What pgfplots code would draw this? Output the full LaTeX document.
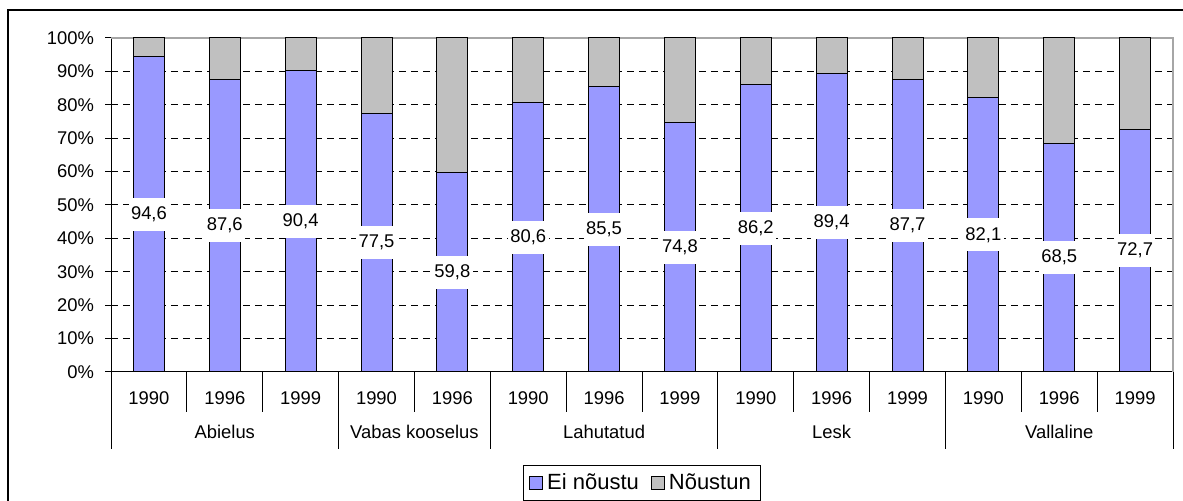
\documentclass[border=0pt]{standalone}
\usepackage{fontspec}
\setmainfont{Liberation Sans}
\usepackage{pgfplots}
\pgfplotsset{compat=1.18}
\definecolor{eiblue}{HTML}{9999FF}
\definecolor{ngrey}{HTML}{C0C0C0}

\begin{document}
\begin{tikzpicture}[font=\fontsize{9.2}{11}\selectfont]
\useasboundingbox (0,0) rectangle (591.5pt,250.5pt);
\draw[line width=0.75pt] (4pt,0) -- (4pt,245.5pt) -- (592pt,245.5pt);
\begin{axis}[
    at={(55.5pt,64.5pt)}, anchor=south west,
    scale only axis, width=531pt, height=167pt,
    ybar stacked, bar width=15.5pt,
    xmin=-0.5, xmax=13.5, ymin=0, ymax=100,
    axis lines*=left,
    axis line style={line width=0.5pt},
    clip=false,
    /pgf/number format/assume math mode=true,
    ytick={0,10,...,100},
    yticklabel={\pgfmathprintnumber{\tick}\%},
    yticklabel style={xshift=-2pt},
    tick align=outside, major tick length=3pt,
    ytick style={line width=0.5pt, black},
    ymajorgrids,
    grid style={black, line width=0.5pt, dash pattern=on 3.5pt off 2.5pt},
    xtick=data,
    xticklabels={1990,1996,1999,1990,1996,1990,1996,1999,1990,1996,1999,1990,1996,1999},
    xtick style={draw=none},
    xticklabel style={anchor=center, yshift=-10pt},
    legend columns=2,
    legend style={at={(0.5,-0.332)}, anchor=center, draw=black, line width=0.5pt,
        font=\fontsize{11}{13}\selectfont, inner xsep=3pt, inner ysep=2pt,
        /tikz/every even column/.append style={column sep=4pt}},
]
% Ei noustu: label sits in the middle of the blue segment
\addplot[fill=eiblue, draw=black, line width=0.5pt,
    legend image code/.code={\draw[fill=eiblue, draw=black, line width=0.5pt] (0pt,-3.25pt) rectangle (6.5pt,3.25pt);},
    nodes near coords={\pgfmathprintnumber[fixed,fixed zerofill,precision=1,use comma]{\pgfplotspointmeta}},
    every node near coord/.append style={anchor=center, fill=white, inner xsep=1.2pt,
        minimum height=16.5pt, text=black}]
    coordinates {(0,94.6) (1,87.6) (2,90.4) (3,77.5) (4,59.8) (5,80.6) (6,85.5)
                 (7,74.8) (8,86.2) (9,89.4) (10,87.7) (11,82.1) (12,68.5) (13,72.7)};
\addplot[fill=ngrey, draw=black, line width=0.5pt,
    legend image code/.code={\draw[fill=ngrey, draw=black, line width=0.5pt] (0pt,-3.25pt) rectangle (6.5pt,3.25pt);}]
    coordinates {(0,5.4) (1,12.4) (2,9.6) (3,22.5) (4,40.2) (5,19.4) (6,14.5)
                 (7,25.2) (8,13.8) (9,10.6) (10,12.3) (11,17.9) (12,31.5) (13,27.3)};
\legend{Ei nõustu, Nõustun}
% plot area border (top and right)
\draw[gray!70, line width=0.6pt] (axis cs:-0.5,100) -- (axis cs:13.5,100) -- (axis cs:13.5,0);
% separators between years and between groups
\pgfplotsinvokeforeach{0.5,1.5,3.5,5.5,6.5,8.5,9.5,11.5,12.5}{
    \draw[line width=0.5pt] (axis cs:#1,0) -- ([yshift=-20pt]axis cs:#1,0);}
\pgfplotsinvokeforeach{-0.5,2.5,4.5,7.5,10.5,13.5}{
    \draw[line width=0.5pt] (axis cs:#1,0) -- ([yshift=-38.5pt]axis cs:#1,0);}
\node at (axis cs:1,0)   [yshift=-30pt] {Abielus};
\node at (axis cs:3.5,0) [yshift=-30pt] {Vabas kooselus};
\node at (axis cs:6,0)   [yshift=-30pt] {Lahutatud};
\node at (axis cs:9,0)   [yshift=-30pt] {Lesk};
\node at (axis cs:12,0)  [yshift=-30pt] {Vallaline};
\end{axis}
\end{tikzpicture}
\end{document}
